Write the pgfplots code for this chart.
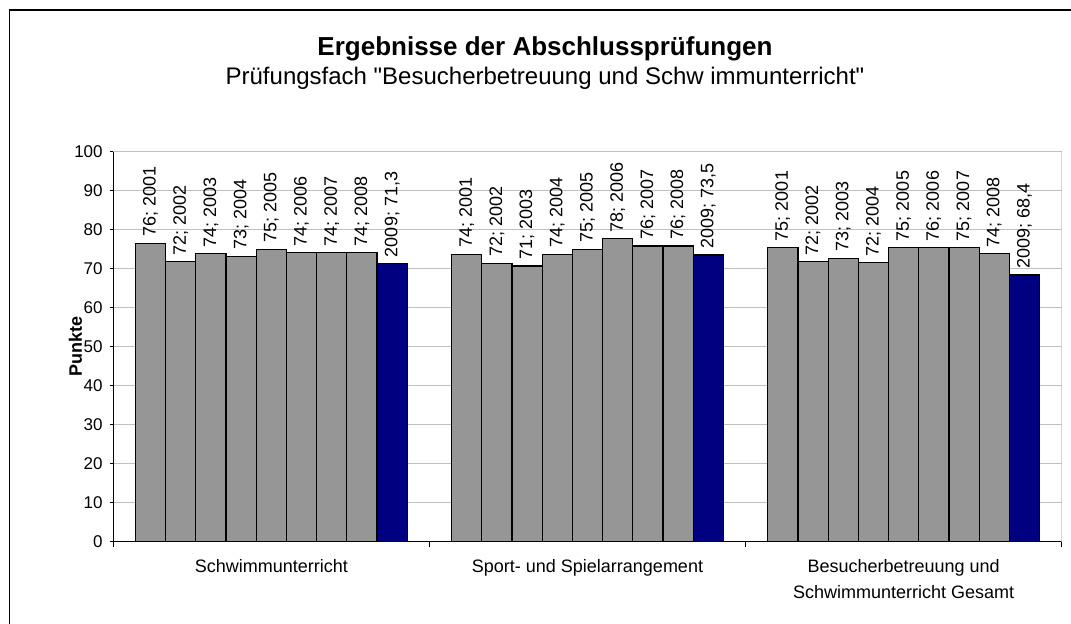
\documentclass[border=0pt]{standalone}
\usepackage{fontspec}
\setmainfont{Liberation Sans}[Ligatures=TeXOff]
\usepackage{pgfplots}
\usepackage{pgfplotstable}
\pgfplotsset{compat=1.18}
\definecolor{bargray}{RGB}{150,150,150}
\definecolor{barnavy}{RGB}{0,0,128}
\definecolor{gridgray}{RGB}{192,192,192}
\protected\def\semi{;}
% x = category (1 Schwimmunterricht, 2 Sport- und Spielarrangement, 3 Gesamt)
\pgfplotstableread{
x  a     la                b     lb                c     lc                d     ld                e     le
1  76.5  {76\semi{} 2001}  71.8  {72\semi{} 2002}  73.8  {74\semi{} 2003}  73.1  {73\semi{} 2004}  75.0  {75\semi{} 2005}
2  73.7  {74\semi{} 2001}  71.4  {72\semi{} 2002}  70.7  {71\semi{} 2003}  73.7  {74\semi{} 2004}  75.0  {75\semi{} 2005}
3  75.4  {75\semi{} 2001}  71.8  {72\semi{} 2002}  72.7  {73\semi{} 2003}  71.5  {72\semi{} 2004}  75.4  {75\semi{} 2005}
}\tA
\pgfplotstableread{
x  f     lf                g     lg                h     lh                i     li
1  74.1  {74\semi{} 2006}  74.1  {74\semi{} 2007}  74.1  {74\semi{} 2008}  71.3  {2009\semi{} 71,3}
2  77.7  {78\semi{} 2006}  75.8  {76\semi{} 2007}  75.8  {76\semi{} 2008}  73.5  {2009\semi{} 73,5}
3  75.4  {76\semi{} 2006}  75.4  {75\semi{} 2007}  73.8  {74\semi{} 2008}  68.4  {2009\semi{} 68,4}
}\tB
\begin{document}
\begin{tikzpicture}
\useasboundingbox (-56.65pt,-41.15pt) rectangle (478.85pt,270.85pt);
\draw[line width=0.8pt] (-51.9pt,-41.15pt) -- (-51.9pt,265.85pt) -- (478.85pt,265.85pt);
\begin{axis}[
 scale only axis, width=474.2pt, height=195pt,
 xmin=0.5, xmax=3.5, ymin=0, ymax=100,
 ytick={0,10,...,100},
 ymajorgrids, major grid style={gridgray, line width=0.5pt},
 axis x line*=bottom, axis y line*=left,
 axis line style={black, line width=0.5pt},
 tick align=outside, major tick length=1.8pt,
 tick style={black, line width=0.5pt},
 xtick={1,2,3}, major x tick style={draw=none},
 minor xtick={0.5,1.5,2.5,3.5}, minor tick length=2.8pt,
 xticklabels={Schwimmunterricht, Sport- und Spielarrangement, {Besucherbetreuung und\\Schwimmunterricht Gesamt}},
 xticklabel style={align=center, font=\fontsize{9}{13}\selectfont, anchor=north, inner sep=0pt, yshift=-7pt},
 yticklabel style={font=\fontsize{8.5}{10}\selectfont},
 /pgf/number format/assume math mode=true,
 ylabel={Punkte},
 ylabel style={font=\bfseries\fontsize{9}{10}\selectfont, at={(axis description cs:-0.04,0.5)}, anchor=center},
 ybar=0pt, bar width=15.1pt,
 point meta=explicit symbolic,
 nodes near coords={\pgfplotspointmeta},
 every node near coord/.append style={rotate=90, anchor=west, font=\fontsize{9}{9}\selectfont, inner sep=3pt, black},
 every axis plot/.append style={draw=black, line width=0.6pt},
]
\addplot[fill=bargray] table[x=x, y=a, meta=la] {\tA};
\addplot[fill=bargray] table[x=x, y=b, meta=lb] {\tA};
\addplot[fill=bargray] table[x=x, y=c, meta=lc] {\tA};
\addplot[fill=bargray] table[x=x, y=d, meta=ld] {\tA};
\addplot[fill=bargray] table[x=x, y=e, meta=le] {\tA};
\addplot[fill=bargray] table[x=x, y=f, meta=lf] {\tB};
\addplot[fill=bargray] table[x=x, y=g, meta=lg] {\tB};
\addplot[fill=bargray] table[x=x, y=h, meta=lh] {\tB};
\addplot[fill=barnavy] table[x=x, y=i, meta=li] {\tB};
\draw[gridgray, line width=0.5pt] (rel axis cs:0,1) -- (rel axis cs:1,1) -- (rel axis cs:1,0);
\end{axis}
\node[font=\bfseries\fontsize{13}{15}\selectfont, anchor=base] at (215.85pt,243.2pt) {Ergebnisse der Abschlussprüfungen};
\node[font=\fontsize{12}{14}\selectfont, anchor=base] at (215.85pt,228.6pt) {Prüfungsfach "Besucherbetreuung und Schw immunterricht"};
\end{tikzpicture}
\end{document}
